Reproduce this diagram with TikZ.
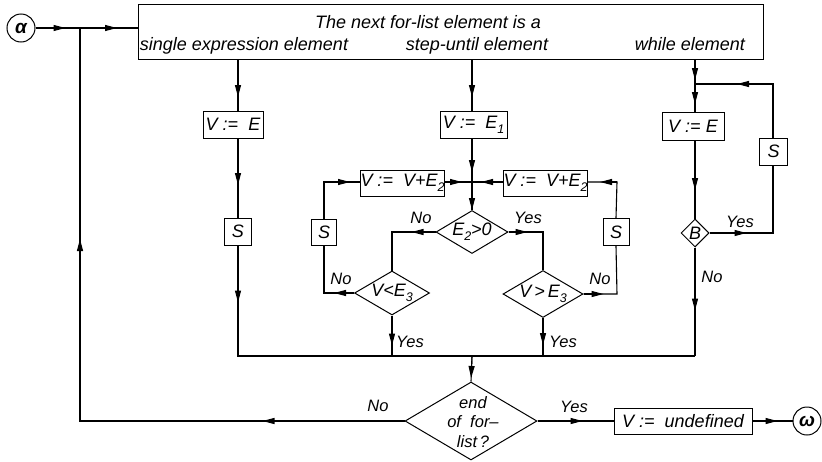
\documentclass[tikz,border=0pt]{standalone}
\usepackage{fontspec}
\setmainfont{Liberation Sans}
\usetikzlibrary{shapes.geometric,arrows.meta,calc}
\newcommand{\lowsub}[1]{\raisebox{-0.55ex}{\fontsize{12.5}{12.5}\selectfont #1}}
% arrow tip placed on a line: from #1 toward #2, tip at distance #3
\newcommand{\tipat}[3]{\draw[conn,-{Triangle[length=12pt,width=6pt]}] (#1) -- ($(#1)!#3!(#2)$);}
\begin{document}
\begin{tikzpicture}[x=1pt,y=-1pt,
  every node/.style={font=\itshape\fontsize{18}{21}\selectfont, inner sep=0pt},
  box/.style={draw, rectangle, line width=1pt},
  dia/.style={draw, diamond, line width=1pt, inner sep=0pt},
  circ/.style={draw, circle, line width=1pt, minimum size=28pt},
  conn/.style={line width=1.1pt},
  lab/.style={font=\itshape\fontsize{16.5}{18}\selectfont}
]
\useasboundingbox (0,0) rectangle (822,461);

% nodes
\node[circ, font=\bfseries\itshape\fontsize{19}{20}\selectfont] (alpha) at (21,28) {α};
\node[box, minimum width=625pt, minimum height=55pt] (top) at (450.5,31.5) {};
\node[anchor=base] (t1) at (428,28) {The next for-list element is a};
\node[anchor=base] (t2) at (244,50) {single expression element};
\node[anchor=base] (t3) at (477,50) {step-until element};
\node[anchor=base] (t4) at (690,50) {while element};

\node[box, minimum width=60pt, minimum height=27pt] (VE1) at (233,124.5) {V :=\ \ E};
\node[box, minimum width=27pt, minimum height=27pt] (S1) at (238,231.5) {S};

\node[box, minimum width=67pt, minimum height=27pt] (VE2) at (473.5,124.5) {V :=\ \ E\lowsub{1}};
\node[box, minimum width=81pt, minimum height=26pt] (VL) at (402.5,183) {V :=\ \ V+E\lowsub{2}};
\node[box, minimum width=83pt, minimum height=26pt] (VR) at (545.5,183) {V :=\ \ V+E\lowsub{2}};
\node[dia, minimum width=72pt, minimum height=43pt] (D1) at (472,232) {};
\node (D1t) at (D1) {E\lowsub{2}>0};
\node[dia, minimum width=75pt, minimum height=44pt] (D2) at (392,293) {};
\node (D2t) at (D2) {V<E\lowsub{3}};
\node[dia, minimum width=80pt, minimum height=47pt] (D3) at (543,294) {};
\node (D3t) at (D3) {V\,>\,E\lowsub{3}};
\node[box, minimum width=25pt, minimum height=26pt] (S2) at (324,232) {S};
\node[box, minimum width=26pt, minimum height=27pt] (S3) at (616,232) {S};

\node[box, minimum width=62pt, minimum height=28pt] (VE3) at (693,126) {V :=\ E};
\node[dia, minimum width=28pt, minimum height=28pt] (DB) at (695,233) {};
\node (DBt) at (DB) {B};
\node[box, minimum width=28pt, minimum height=27pt] (S4) at (773.5,151.5) {S};

\node[dia, minimum width=132pt, minimum height=78pt] (DE) at (471,421) {};
\node[align=center, font=\itshape\fontsize{16.5}{19.5}\selectfont] (DEt) at (473,422) {end\\of\ \ for--\\list\,?};
\node[box, minimum width=138pt, minimum height=26pt] (VU) at (683,421) {V :=\ \ undefined};
\node[circ, font=\bfseries\itshape\fontsize{19}{20}\selectfont] (omega) at (807,421) {ω};

% labels
\node[lab] (l1) at (378,406) {No};
\node[lab] (l2) at (421,218) {No};
\node[lab] (l3) at (528,218) {Yes};
\node[lab] (l4) at (341,279) {No};
\node[lab] (l5) at (600,279) {No};
\node[lab] (l6) at (410,342) {Yes};
\node[lab] (l7) at (563,342) {Yes};
\node[lab] (l8) at (740,222) {Yes};
\node[lab] (l9) at (712,277) {No};
\node[lab] (l10) at (574,407) {Yes};

% helper coordinates (bends and line ends)
\coordinate (L) at (80,28);
\coordinate (Ltop) at (top.west |- L);
\coordinate (LB) at (DE.west -| L);
\coordinate (c1a) at (238,59);
\coordinate (c1b) at (238,111);
\coordinate (c1c) at (238,138);
\coordinate (c1d) at (238,356);
\coordinate (c2a) at (472,59);
\coordinate (c2b) at (472,111);
\coordinate (c2c) at (472,138);
\coordinate (J) at (472,182);
\coordinate (c2bus) at (472,356);
\coordinate (JL) at (VL.east |- J);
\coordinate (JR) at (VR.west |- J);
\coordinate (d1w) at (D1.west -| D2.north);
\coordinate (d2w) at (324,293);
\coordinate (s2t) at (324,182);
\coordinate (vlw) at (VL.west |- J);
\coordinate (d2b) at (392,356);
\coordinate (d1e) at (D1.east -| D3.north);
\coordinate (d3e) at (617,294);
\coordinate (s3t) at (617,182);
\coordinate (vre) at (VR.east |- J);
\coordinate (d3b) at (543,356);
\coordinate (c3a) at (695,59);
\coordinate (M) at (695,84);
\coordinate (c3b) at (695,112);
\coordinate (c3c) at (695,140);
\coordinate (dbe) at (773,233);
\coordinate (s4b) at (773,165);
\coordinate (s4t) at (773,138);
\coordinate (s4m) at (773,84);
\coordinate (c3bus) at (695,356);

% entry and loop
\draw[conn] (alpha.east) -- (L) -- (Ltop);
\tipat{alpha.east}{L}{30pt}
\tipat{L}{Ltop}{37pt}
\draw[conn] (DE.west) -- (LB) -- (L);
\tipat{DE.west}{LB}{142pt}
\tipat{LB}{L}{182pt}

% column 1
\draw[conn] (c1a) -- (c1b);
\tipat{c1a}{c1b}{38pt}
\draw[conn] (c1c) -- (S1.north);
\tipat{c1c}{S1.north}{47pt}
\draw[conn] (S1.south) -- (c1d) -- (c3bus);
\tipat{S1.south}{c1d}{57pt}

% column 2
\draw[conn] (c2a) -- (c2b);
\tipat{c2a}{c2b}{38pt}
\draw[conn] (c2c) -- (J) -- (D1.north);
\tipat{c2c}{J}{34pt}
\tipat{J}{D1.north}{28pt}
\draw[conn] (JL) -- (J) -- (JR);
\tipat{JL}{J}{17pt}
\tipat{JR}{J}{22pt}
\draw[conn] (D1.west) -- (d1w) -- (D2.north);
\tipat{D1.west}{d1w}{24pt}
\draw[conn] (D2.west) -- (d2w) -- (S2.south);
\tipat{D2.west}{d2w}{20pt}
\draw[conn] (S2.north) -- (s2t) -- (vlw);
\tipat{s2t}{vlw}{26pt}
\draw[conn] (D2.south) -- (d2b);
\tipat{D2.south}{d2b}{30pt}
\draw[conn] (D1.east) -- (d1e) -- (D3.north);
\tipat{D1.east}{d1e}{19pt}
\draw[conn] (D3.east) -- (d3e) -- (S3.south);
\tipat{D3.east}{d3e}{20pt}
\draw[conn] (S3.north) -- (s3t) -- (vre);
\tipat{s3t}{vre}{17pt}
\draw[conn] (D3.south) -- (d3b);
\tipat{D3.south}{d3b}{27pt}

% column 3
\draw[conn] (c3a) -- (M) -- (c3b);
\tipat{c3a}{M}{21pt}
\tipat{M}{c3b}{20pt}
\draw[conn] (c3c) -- (DB.north);
\tipat{c3c}{DB.north}{50pt}
\draw[conn] (DB.east) -- (dbe) -- (s4b);
\tipat{DB.east}{dbe}{37pt}
\draw[conn] (s4t) -- (s4m) -- (M);
\tipat{s4m}{M}{36pt}
\draw[conn] (DB.south) -- (c3bus);
\tipat{DB.south}{c3bus}{63pt}

% exit
\draw[conn] (c2bus) -- (DE.north);
\tipat{c2bus}{DE.north}{22pt}
\draw[conn] (DE.east) -- (VU.west);
\tipat{DE.east}{VU.west}{45pt}
\draw[conn] (VU.east) -- (omega.west);
\tipat{VU.east}{omega.west}{25pt}
\end{tikzpicture}
\end{document}
